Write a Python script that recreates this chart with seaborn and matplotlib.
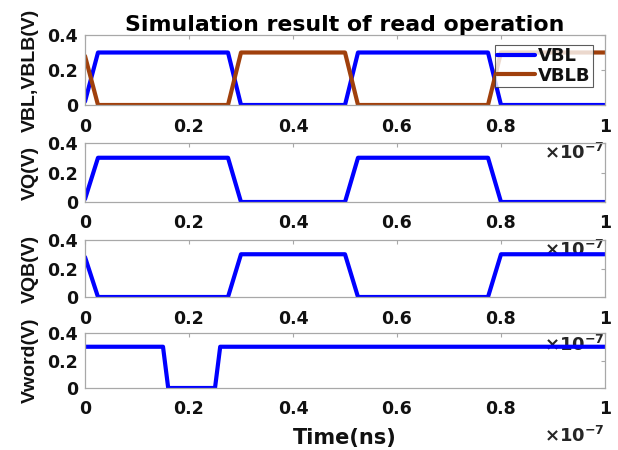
import numpy as np
import pandas as pd
import seaborn as sns
import matplotlib
matplotlib.use("Agg")
import matplotlib.pyplot as plt

sns.set_theme(style="white")
plt.rcParams['font.family'] = ['DejaVu Sans']
plt.rcParams['font.weight'] = 'bold'
plt.rcParams['mathtext.fontset'] = 'dejavusans'
plt.rcParams['mathtext.default'] = 'bf'
plt.rcParams['text.color'] = '#111111'
plt.rcParams['axes.labelcolor'] = '#111111'
plt.rcParams['xtick.labelcolor'] = '#111111'
plt.rcParams['ytick.labelcolor'] = '#111111'

# time in units of 1e-7 s (axis shows x10^-7)
t_bl = [0, 0.025, 0.275, 0.3, 0.5, 0.525, 0.775, 0.8, 1.0]
vbl = [0.02, 0.3, 0.3, 0.0, 0.0, 0.3, 0.3, 0.0, 0.0]
vblb = [0.28, 0.0, 0.0, 0.3, 0.3, 0.0, 0.0, 0.3, 0.3]
vq = [0.02, 0.3, 0.3, 0.0, 0.0, 0.3, 0.3, 0.0, 0.0]
vqb = [0.28, 0.0, 0.0, 0.3, 0.3, 0.0, 0.0, 0.3, 0.3]
t_word = [0, 0.15, 0.16, 0.25, 0.26, 1.0]
vword = [0.3, 0.3, 0.0, 0.0, 0.3, 0.3]

xticks = [0, 0.2, 0.4, 0.6, 0.8, 1.0]
xticklabels = ["0", "0.2", "0.4", "0.6", "0.8", "1"]
yticks = [0, 0.2, 0.4]
yticklabels = ["0", "0.2", "0.4"]
ylabels = ["VBL,VBLB(V)", "VQ(V)", "VQB(V)", "Vword(V)"]

BLUE = "#0000FF"
BROWN = "#A0400C"
SPINE = "#A8A8A8"

fig = plt.figure(figsize=(6.18, 4.5), dpi=100)
H = 450.0
W = 618.0
left = 85 / W
right = 605 / W
panels = [(35, 105), (143, 202), (240, 297), (333, 388)]
axes = []
for top, bot in panels:
    ax = fig.add_axes([left, 1 - bot / H, right - left, (bot - top) / H])
    ax.patch.set_alpha(0)
    axes.append(ax)

lw = 3.0
sns.lineplot(x=t_bl, y=vbl, ax=axes[0], color=BLUE, lw=lw, label="VBL")
sns.lineplot(x=t_bl, y=vblb, ax=axes[0], color=BROWN, lw=lw, label="VBLB")
sns.lineplot(x=t_bl, y=vq, ax=axes[1], color=BLUE, lw=lw)
sns.lineplot(x=t_bl, y=vqb, ax=axes[2], color=BLUE, lw=lw)
sns.lineplot(x=t_word, y=vword, ax=axes[3], color=BLUE, lw=lw)

for ax, yl in zip(axes, ylabels):
    ax.set_xlim(0, 1)
    ax.set_ylim(0, 0.4)
    ax.set_xticks(xticks)
    ax.set_xticklabels(xticklabels, fontsize=12.5, fontweight='bold')
    ax.set_yticks(yticks)
    ax.set_yticklabels(yticklabels, fontsize=12.5, fontweight='bold')
    ax.tick_params(axis='both', direction='in', top=True, right=True,
                   length=3, width=0.8, color=SPINE)
    ax.tick_params(axis='x', pad=9)
    ax.tick_params(axis='y', pad=5)
    for s in ax.spines.values():
        s.set_color(SPINE)
        s.set_linewidth(0.9)
    ax.set_ylabel(yl, fontsize=14, fontweight='bold', labelpad=6,
                  family='Liberation Sans')
    ax.set_xlabel("")
    # exponent label, MATLAB style, below the x tick labels
    ax.annotate(r'$\times$10$^{-7}$', xy=(1, 0), xycoords='axes fraction',
                xytext=(0, -48), textcoords='offset pixels',
                ha='right', va='center', fontsize=13, fontweight='bold',
                color='#262626')

axes[0].set_title("Simulation result of read operation", fontsize=15.8,
                  fontweight='bold', pad=3, color='#000000')
axes[3].set_xlabel("Time(ns)", fontsize=15, fontweight='bold', labelpad=7)

leg = axes[0].legend(loc='upper right', bbox_to_anchor=(0.977, 0.86),
                     prop={'weight': 'bold', 'size': 13}, frameon=True,
                     fancybox=False, handlelength=2.1, borderpad=0.12,
                     labelspacing=0.1, handletextpad=0.2, borderaxespad=0)
leg.get_frame().set_edgecolor('#333333')
leg.get_frame().set_linewidth(0.8)

fig.savefig("out.png", dpi=100, facecolor='white')
